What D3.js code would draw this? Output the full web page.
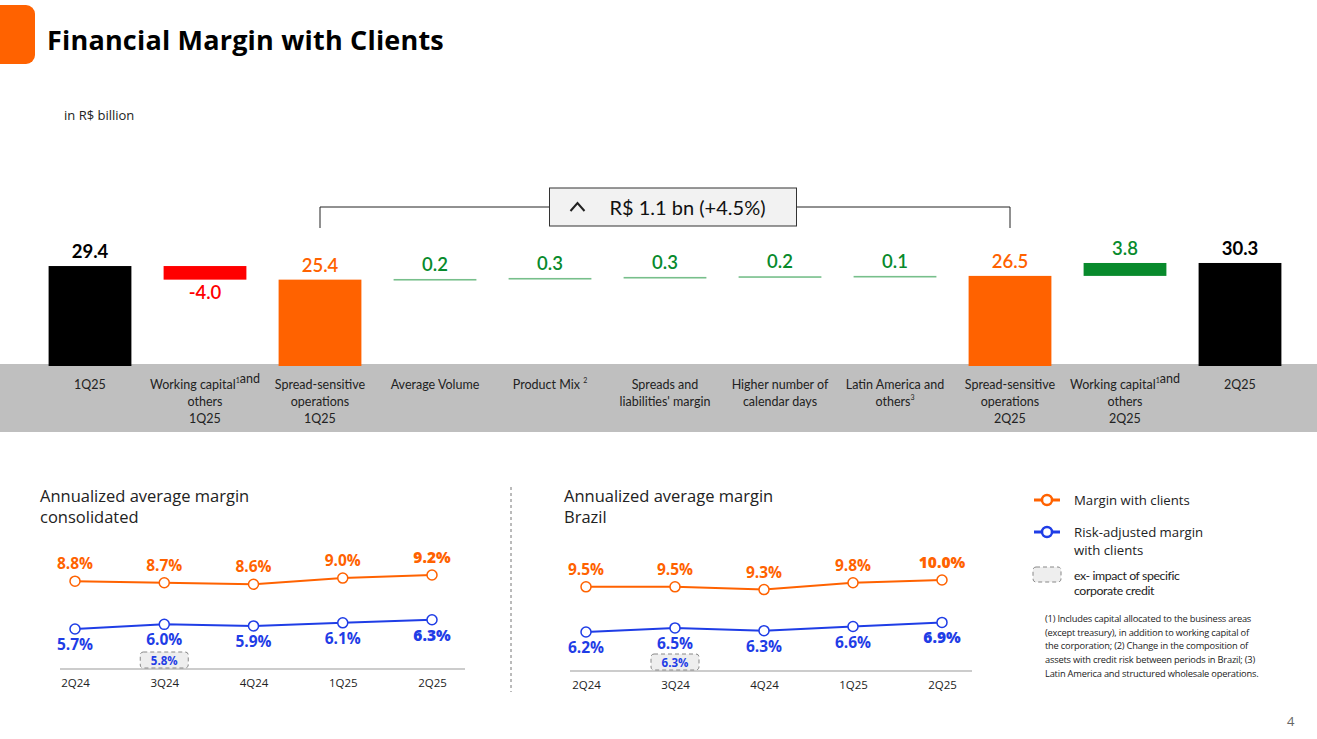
<!DOCTYPE html>
<html>
<head>
<meta charset="utf-8">
<script src="https://cdnjs.cloudflare.com/ajax/libs/d3/7.8.5/d3.min.js"></script>
<style>
  body { margin: 0; background: #fff; }
  svg { display: block; }
</style>
</head>
<body>
<div id="chart"></div>
<script>
// waterfall data (R$ billion)
const wfLabels = [
    ["1Q25"],
    ["Working capital{1}and", "others", "1Q25"],
    ["Spread-sensitive", "operations", "1Q25"],
    ["Average Volume"],
    ["Product Mix {2}"],
    ["Spreads and", "liabilities' margin"],
    ["Higher number of", "calendar days"],
    ["Latin America and", "others{3}"],
    ["Spread-sensitive", "operations", "2Q25"],
    ["Working capital{1}and", "others", "2Q25"],
    ["2Q25"]
];
const wfValues = [29.4, -4.0, 25.4, 0.2, 0.3, 0.3, 0.2, 0.1, 26.5, 3.8, 30.3];
const wfKinds = ["total", "delta", "subtotal", "delta", "delta", "delta", "delta", "delta", "subtotal", "delta", "total"];
const bracketText = "R$ 1.1 bn (+4.5%)";

// line charts data (%)
const quarters = ["2Q24", "3Q24", "4Q24", "1Q25", "2Q25"];
const consMargin = [8.8, 8.7, 8.6, 9.0, 9.2];
const consRiskAdj = [5.7, 6.0, 5.9, 6.1, 6.3];
const consExImpact = 5.8;
const brMargin = [9.5, 9.5, 9.3, 9.8, 10.0];
const brRiskAdj = [6.2, 6.5, 6.3, 6.6, 6.9];
const brExImpact = 6.3;
const exImpactQuarter = "3Q24";

const footnote = [
    "(1) Includes capital allocated to the business areas",
    "(except treasury), in addition to working capital of",
    "the corporation; (2) Change in the composition of",
    "assets with credit risk between periods in Brazil; (3)",
    "Latin America and structured wholesale operations."
];

const ORANGE = "#ff6200", BLUE = "#1f3de6", GREEN = "#088a2c", RED = "#ff0000";
const calibri = "Lato, 'Open Sans', sans-serif";
const itau = "'Open Sans', 'Noto Sans', sans-serif";

const W = 1317, H = 739;
const svg = d3.select("#chart")
    .append("svg")
    .attr("width", W)
    .attr("height", H);

// header
svg.append("rect")
    .attr("x", -12).attr("y", 5)
    .attr("width", 47).attr("height", 59)
    .attr("rx", 9)
    .attr("fill", ORANGE);
svg.append("text")
    .attr("x", 47).attr("y", 50)
    .attr("font-family", itau)
    .attr("font-weight", 700)
    .attr("font-size", 27)
    .attr("letter-spacing", 0.2)
    .attr("fill", "#000")
    .text("Financial Margin with Clients");
svg.append("text")
    .attr("x", 64).attr("y", 120)
    .attr("font-family", itau)
    .attr("font-size", 13)
    .attr("fill", "#222")
    .text("in R$ billion");

// ---------- waterfall ----------
let running = 0;
const wfData = wfValues.map((v, i) => {
    let y0, y1;
    if (wfKinds[i] === "delta") {
        y0 = running; y1 = running + v; running = y1;
    } else {
        y0 = 0; y1 = v; running = v;
    }
    return {i: i, v: v, kind: wfKinds[i], y0: y0, y1: y1, label: wfLabels[i]};
});

const x = d3.scaleBand()
    .domain(d3.range(wfValues.length))
    .range([32.5, 1297.5])
    .paddingInner(0.28)
    .paddingOuter(0.14);
const y = d3.scaleLinear()
    .domain([0, 30])
    .range([366, 264]);

// gray band under the bars
svg.append("rect")
    .attr("x", 0).attr("y", 364)
    .attr("width", W).attr("height", 68)
    .attr("fill", "#bfbfbf");

function barColor(d) {
    if (d.kind === "total") return "#000";
    if (d.kind === "subtotal") return ORANGE;
    return d.v < 0 ? RED : GREEN;
}

svg.selectAll(".wf-bar")
    .data(wfData)
    .enter()
    .append("rect")
    .attr("class", "wf-bar")
    .attr("x", d => x(d.i))
    .attr("y", d => Math.min(y(d.y0), y(d.y1)))
    .attr("width", x.bandwidth())
    .attr("height", d => Math.max(Math.abs(y(d.y0) - y(d.y1)), 1.6))
    .attr("fill", barColor)
    .attr("opacity", d => Math.abs(y(d.y0) - y(d.y1)) < 2 ? 0.55 : 1);

svg.selectAll(".wf-val")
    .data(wfData)
    .enter()
    .append("text")
    .attr("class", "wf-val")
    .attr("x", d => x(d.i) + x.bandwidth() / 2)
    .attr("y", d => d.v < 0 ? y(d.y1) + 19 : y(Math.max(d.y0, d.y1)) - 8)
    .attr("text-anchor", "middle")
    .attr("font-family", calibri)
    .attr("font-size", 18.5)
    .attr("font-weight", d => d.kind === "total" ? 700 : 600)
    .attr("fill", d => d.kind === "total" ? "#000" : barColor(d))
    .text(d => d3.format(".1f")(d.v).replace("−", "-"));

// category labels with superscript notes
const catText = svg.selectAll(".wf-cat")
    .data(wfData)
    .enter()
    .append("text")
    .attr("class", "wf-cat")
    .attr("text-anchor", "middle")
    .attr("font-family", calibri)
    .attr("font-size", 12.5)
    .attr("fill", "#222");
catText.each(function (d) {
    const t = d3.select(this);
    const cx = x(d.i) + x.bandwidth() / 2;
    d.label.forEach((line, k) => {
        const parts = line.split(/\{(\d)\}/);
        const row = t.append("tspan")
            .attr("x", cx)
            .attr("y", 389 + k * 17);
        parts.forEach((p, j) => {
            if (j % 2 === 1) {
                row.append("tspan")
                    .attr("font-size", 7)
                    .attr("dy", -6)
                    .text(p);
                row.append("tspan").attr("dy", 6).text("");
            } else if (p.length) {
                row.append("tspan").text(p);
            }
        });
    });
});

// bracket between the two spread-sensitive bars
const bxL = x(2) + x.bandwidth() / 2, bxR = x(8) + x.bandwidth() / 2;
const boxW = 247, boxX = (bxL + bxR) / 2 + 8 - boxW / 2;
svg.append("path")
    .attr("d", `M${bxL},228V207H${bxR}V228`)
    .attr("fill", "none")
    .attr("stroke", "#222")
    .attr("stroke-width", 1);
svg.append("rect")
    .attr("x", boxX).attr("y", 188)
    .attr("width", boxW).attr("height", 38)
    .attr("fill", "#f2f2f2")
    .attr("stroke", "#333")
    .attr("stroke-width", 1);
svg.append("path")
    .attr("d", `M${boxX + 21},211L${boxX + 28},203L${boxX + 35},211`)
    .attr("fill", "none")
    .attr("stroke", "#222")
    .attr("stroke-width", 2);
svg.append("text")
    .attr("x", boxX + 60).attr("y", 215)
    .attr("font-family", calibri)
    .attr("font-size", 20)
    .attr("fill", "#111")
    .text(bracketText);

// ---------- line charts ----------
function lineChart(opt) {
    const g = svg.append("g");
    const xs = d3.scalePoint()
        .domain(quarters)
        .range([opt.x0, opt.x1]);
    const allVals = opt.margin.concat(opt.risk);
    const ys = d3.scaleLinear()
        .domain(d3.extent(allVals))
        .range([opt.yBottom, opt.yTop]);

    opt.title.forEach((t, k) => {
        g.append("text")
            .attr("x", opt.titleX).attr("y", 502 + k * 21)
            .attr("font-family", itau)
            .attr("font-size", 16.5)
            .attr("fill", "#222")
            .text(t);
    });

    // baseline + tick labels
    g.append("line")
        .attr("x1", opt.axisL).attr("x2", opt.axisR)
        .attr("y1", opt.axisY).attr("y2", opt.axisY)
        .attr("stroke", "#999")
        .attr("stroke-width", 1);
    const ax = g.append("g")
        .attr("transform", `translate(0,${opt.axisY + 7})`)
        .call(d3.axisBottom(xs).tickSize(0));
    ax.select(".domain").remove();
    ax.selectAll("text")
        .attr("font-family", itau)
        .attr("font-size", 11.5)
        .attr("fill", "#222");

    const series = [
        {vals: opt.margin, color: ORANGE, above: true},
        {vals: opt.risk, color: BLUE, above: false}
    ];
    series.forEach(s => {
        const pts = s.vals.map((v, i) => ({q: quarters[i], v: v, last: i === s.vals.length - 1}));
        g.append("path")
            .datum(pts)
            .attr("fill", "none")
            .attr("stroke", s.color)
            .attr("stroke-width", 2)
            .attr("d", d3.line().x(d => xs(d.q)).y(d => ys(d.v)));
        g.selectAll(null)
            .data(pts)
            .enter()
            .append("circle")
            .attr("cx", d => xs(d.q))
            .attr("cy", d => ys(d.v))
            .attr("r", 5)
            .attr("fill", "#fff")
            .attr("stroke", s.color)
            .attr("stroke-width", 1.5);
        g.selectAll(null)
            .data(pts)
            .enter()
            .append("text")
            .attr("x", d => xs(d.q))
            .attr("y", d => s.above ? ys(d.v) - 12 : ys(d.v) + 21)
            .attr("text-anchor", "middle")
            .attr("font-family", itau)
            .attr("font-size", 15.5)
            .attr("font-weight", d => d.last ? 800 : 700)
            .attr("fill", s.color)
            .text(d => d3.format(".1f")(d.v) + "%");
    });

    // ex-impact box
    const ex = xs(exImpactQuarter);
    g.append("rect")
        .attr("x", ex - 24).attr("y", opt.axisY - 17)
        .attr("width", 48).attr("height", 16)
        .attr("rx", 3)
        .attr("fill", "#eeeeee")
        .attr("stroke", "#888")
        .attr("stroke-dasharray", "4,3");
    g.append("text")
        .attr("x", ex).attr("y", opt.axisY - 4.5)
        .attr("text-anchor", "middle")
        .attr("font-family", itau)
        .attr("font-size", 11.5)
        .attr("font-weight", 700)
        .attr("fill", BLUE)
        .text(d3.format(".1f")(opt.exImpact) + "%");
}

lineChart({
    title: ["Annualized average margin", "consolidated"],
    titleX: 40, x0: 75, x1: 432, axisL: 60, axisR: 465, axisY: 669,
    yTop: 575, yBottom: 629,
    margin: consMargin, risk: consRiskAdj, exImpact: consExImpact
});
lineChart({
    title: ["Annualized average margin", "Brazil"],
    titleX: 564, x0: 586, x1: 942, axisL: 570, axisR: 972, axisY: 671,
    yTop: 580, yBottom: 632,
    margin: brMargin, risk: brRiskAdj, exImpact: brExImpact
});

// divider
svg.append("line")
    .attr("x1", 511).attr("x2", 511)
    .attr("y1", 487).attr("y2", 692)
    .attr("stroke", "#777")
    .attr("stroke-dasharray", "3,3");

// ---------- legend ----------
const legend = svg.append("g");
[{c: ORANGE, y: 500, t: ["Margin with clients"]},
 {c: BLUE, y: 532, t: ["Risk-adjusted margin", "with clients"]}].forEach(l => {
    legend.append("line")
        .attr("x1", 1034).attr("x2", 1060)
        .attr("y1", l.y).attr("y2", l.y)
        .attr("stroke", l.c)
        .attr("stroke-width", 3);
    legend.append("circle")
        .attr("cx", 1047).attr("cy", l.y)
        .attr("r", 5)
        .attr("fill", "#fff")
        .attr("stroke", l.c)
        .attr("stroke-width", 2.5);
    l.t.forEach((s, k) => {
        legend.append("text")
            .attr("x", 1074).attr("y", l.y + 5 + k * 18)
            .attr("font-family", itau)
            .attr("font-size", 13.2)
            .attr("fill", "#222")
            .text(s);
    });
});
legend.append("rect")
    .attr("x", 1033).attr("y", 567)
    .attr("width", 28).attr("height", 15)
    .attr("rx", 3)
    .attr("fill", "#eeeeee")
    .attr("stroke", "#888")
    .attr("stroke-dasharray", "4,3");
["ex- impact of specific", "corporate credit"].forEach((s, k) => {
    legend.append("text")
        .attr("x", 1074).attr("y", 580 + k * 15)
        .attr("font-family", calibri)
        .attr("font-size", 12.3)
        .attr("letter-spacing", -0.4)
        .attr("fill", "#222")
        .text(s);
});

footnote.forEach((s, k) => {
    svg.append("text")
        .attr("x", 1045).attr("y", 622 + k * 13.7)
        .attr("font-family", itau)
        .attr("font-size", 9.3)
        .attr("letter-spacing", -0.2)
        .attr("fill", "#222")
        .text(s);
});

svg.append("text")
    .attr("x", 1287).attr("y", 726)
    .attr("font-family", itau)
    .attr("font-size", 13)
    .attr("fill", "#666")
    .text("4");
</script>
</body>
</html>
